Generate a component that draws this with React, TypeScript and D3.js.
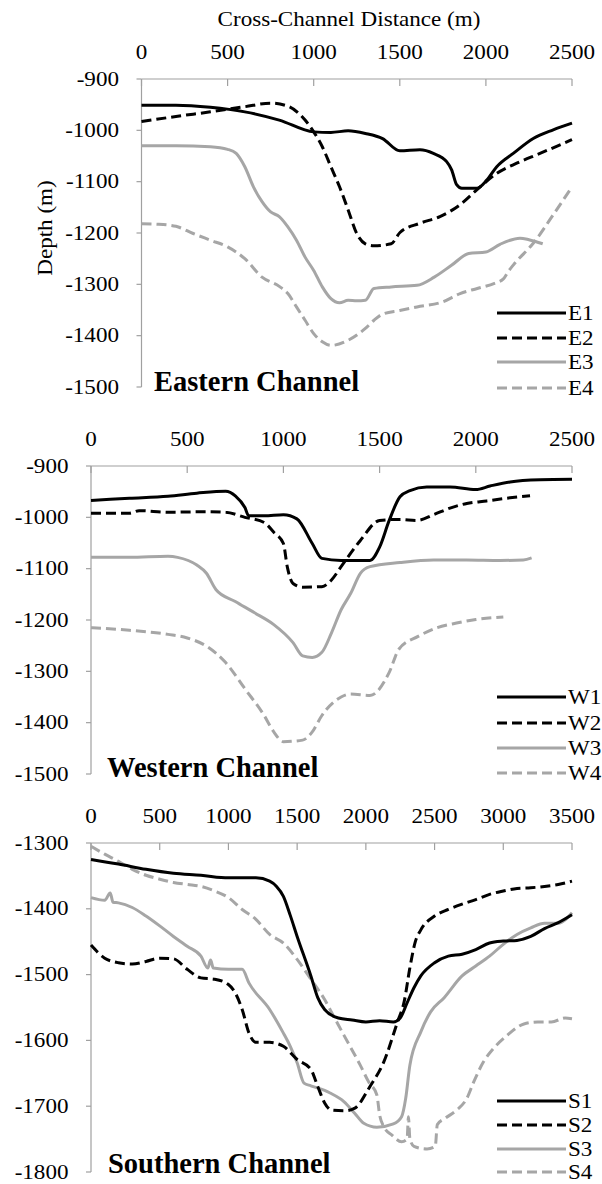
import * as d3 from 'd3';

type Pt = [number, number];

const SERIF = "'Liberation Serif', 'Times New Roman', serif";
const BLACK = '#000000';
const GRAY = '#a6a6a6';
const AXIS = '#a0a0a0';
const DASH = '10,5';
const SX = 1.1; // the source text is slightly wider than plain Times

// Eastern channel profiles: [cross-channel distance (m), depth (m)]
const E1: Pt[] = [[0, -951], [200, -951], [400, -955], [600, -964], [800, -980], [1000, -1003], [1100, -1004], [1200, -1001], [1300, -1006], [1400, -1016], [1500, -1040], [1617, -1038], [1695, -1045], [1772, -1061], [1801, -1077], [1830, -1106], [1860, -1113], [1947, -1113], [2005, -1097], [2063, -1071], [2159, -1045], [2275, -1016], [2391, -999], [2500, -986]];
const E2: Pt[] = [[0, -983], [200, -973], [400, -964], [600, -954], [750, -947], [850, -953], [950, -980], [1000, -1003], [1050, -1032], [1100, -1071], [1150, -1110], [1200, -1155], [1250, -1201], [1300, -1221], [1350, -1225], [1450, -1221], [1501, -1199], [1617, -1181], [1733, -1168], [1850, -1145], [1947, -1116], [2063, -1084], [2179, -1064], [2314, -1045], [2500, -1018]];
const E3: Pt[] = [[0, -1030], [200, -1030], [400, -1032], [500, -1037], [550, -1045], [600, -1071], [650, -1110], [700, -1139], [750, -1159], [800, -1168], [850, -1188], [900, -1214], [950, -1247], [1000, -1273], [1050, -1305], [1100, -1328], [1150, -1336], [1200, -1331], [1250, -1332], [1300, -1331], [1350, -1308], [1450, -1305], [1600, -1302], [1700, -1286], [1800, -1263], [1900, -1240], [2000, -1237], [2082, -1222], [2198, -1210], [2250, -1213], [2330, -1221]];
const E4: Pt[] = [[0, -1182], [100, -1183], [200, -1187], [300, -1201], [400, -1214], [500, -1227], [600, -1250], [700, -1286], [800, -1304], [850, -1318], [900, -1344], [950, -1370], [1000, -1396], [1050, -1412], [1100, -1419], [1200, -1409], [1300, -1386], [1350, -1370], [1400, -1358], [1500, -1351], [1600, -1344], [1750, -1334], [1850, -1318], [1950, -1308], [2050, -1298], [2100, -1290], [2130, -1275], [2160, -1262], [2275, -1220], [2400, -1160], [2500, -1110]];

// Western channel profiles
const W1: Pt[] = [[0, -967], [200, -963], [400, -959], [550, -953], [700, -949], [750, -958], [800, -981], [820, -997], [900, -997], [1000, -995], [1070, -1003], [1150, -1051], [1200, -1080], [1300, -1084], [1450, -1084], [1500, -1058], [1550, -1006], [1606, -960], [1658, -948], [1745, -941], [1866, -941], [1999, -946], [2074, -939], [2178, -931], [2334, -927], [2500, -926]];
const W2: Pt[] = [[0, -992], [200, -992], [250, -987], [400, -990], [600, -989], [700, -990], [800, -1000], [900, -1010], [950, -1029], [1000, -1051], [1020, -1096], [1050, -1129], [1100, -1136], [1200, -1135], [1250, -1122], [1300, -1096], [1400, -1045], [1500, -1006], [1606, -1004], [1693, -1006], [1780, -995], [1866, -982], [1953, -973], [2057, -968], [2178, -962], [2282, -958]];
const W3: Pt[] = [[0, -1078], [200, -1078], [400, -1076], [450, -1078], [550, -1093], [600, -1109], [650, -1141], [750, -1164], [850, -1186], [950, -1209], [1050, -1244], [1100, -1270], [1150, -1273], [1200, -1263], [1250, -1225], [1300, -1180], [1350, -1148], [1400, -1109], [1450, -1096], [1606, -1088], [1780, -1083], [1953, -1083], [2126, -1084], [2247, -1083], [2290, -1079]];
const W4: Pt[] = [[0, -1215], [200, -1220], [400, -1228], [500, -1235], [600, -1251], [700, -1283], [800, -1334], [900, -1386], [950, -1418], [1000, -1437], [1100, -1434], [1150, -1418], [1200, -1386], [1300, -1350], [1350, -1344], [1450, -1347], [1550, -1302], [1600, -1257], [1700, -1232], [1800, -1215], [1900, -1206], [2000, -1199], [2143, -1194]];

// Southern channel profiles
const S1: Pt[] = [[0, -1325], [200, -1332], [400, -1340], [600, -1346], [800, -1349], [1000, -1353], [1200, -1353], [1300, -1358], [1350, -1366], [1400, -1381], [1450, -1410], [1500, -1442], [1600, -1502], [1650, -1535], [1700, -1553], [1800, -1566], [1900, -1569], [2000, -1572], [2100, -1570], [2200, -1572], [2250, -1566], [2300, -1543], [2350, -1520], [2400, -1502], [2500, -1482], [2600, -1472], [2700, -1469], [2800, -1462], [2900, -1452], [3000, -1449], [3100, -1448], [3200, -1442], [3300, -1430], [3400, -1421], [3500, -1409]];
const S2: Pt[] = [[0, -1455], [100, -1475], [200, -1482], [300, -1484], [400, -1480], [500, -1475], [600, -1476], [700, -1492], [800, -1505], [900, -1507], [1000, -1515], [1050, -1528], [1100, -1553], [1150, -1589], [1200, -1603], [1300, -1603], [1400, -1609], [1500, -1629], [1600, -1644], [1650, -1670], [1700, -1695], [1750, -1706], [1850, -1707], [1920, -1703], [2030, -1670], [2130, -1633], [2230, -1572], [2280, -1540], [2320, -1490], [2360, -1450], [2400, -1432], [2500, -1411], [2600, -1401], [2700, -1393], [2800, -1386], [2900, -1378], [3000, -1373], [3100, -1369], [3200, -1368], [3300, -1366], [3400, -1363], [3500, -1358]];
const S3: Pt[] = [[0, -1383], [100, -1387], [140, -1376], [160, -1390], [200, -1391], [300, -1398], [400, -1411], [500, -1426], [600, -1442], [700, -1457], [800, -1472], [850, -1490], [870, -1478], [890, -1490], [1000, -1492], [1100, -1492], [1150, -1513], [1300, -1553], [1400, -1589], [1450, -1609], [1500, -1634], [1550, -1665], [1600, -1669], [1700, -1676], [1740, -1680], [1840, -1693], [1920, -1711], [1985, -1726], [2080, -1732], [2200, -1727], [2260, -1716], [2290, -1688], [2320, -1638], [2400, -1587], [2470, -1557], [2570, -1535], [2700, -1502], [2800, -1487], [2900, -1472], [3000, -1454], [3100, -1439], [3200, -1429], [3300, -1422], [3400, -1422], [3500, -1406]];
const S4: Pt[] = [[0, -1305], [100, -1317], [200, -1328], [300, -1340], [400, -1349], [500, -1355], [600, -1360], [700, -1363], [800, -1366], [900, -1373], [1000, -1383], [1100, -1401], [1200, -1416], [1300, -1439], [1400, -1452], [1500, -1477], [1600, -1507], [1700, -1538], [1770, -1565], [1840, -1592], [1960, -1638], [2020, -1663], [2080, -1683], [2100, -1713], [2130, -1731], [2190, -1744], [2260, -1754], [2300, -1750], [2310, -1716], [2320, -1749], [2350, -1761], [2445, -1765], [2505, -1761], [2520, -1728], [2580, -1718], [2660, -1706], [2735, -1688], [2785, -1663], [2855, -1633], [2930, -1612], [3030, -1592], [3150, -1575], [3250, -1572], [3350, -1572], [3450, -1566], [3500, -1567]];

const X_TICKS_2500 = [0, 500, 1000, 1500, 2000, 2500];
const X_TICKS_3500 = [0, 500, 1000, 1500, 2000, 2500, 3000, 3500];
const Y_TICKS_UPPER = [-900, -1000, -1100, -1200, -1300, -1400, -1500];
const Y_TICKS_LOWER = [-1300, -1400, -1500, -1600, -1700, -1800];

const EAST_NAMES = ['E1', 'E2', 'E3', 'E4'];
const WEST_NAMES = ['W1', 'W2', 'W3', 'W4'];
const SOUTH_NAMES = ['S1', 'S2', 'S3', 'S4'];

const STYLES = [
  { color: BLACK, dash: undefined },
  { color: BLACK, dash: DASH },
  { color: GRAY, dash: undefined },
  { color: GRAY, dash: DASH },
];

function Label({ x, y, anchor = 'start', size = 21, bold = false, rotate = 0, children }: {
  x: number; y: number; anchor?: string; size?: number; bold?: boolean; rotate?: number; children: string;
}) {
  const sx = bold ? 1 : SX;
  return (
    <text
      transform={`translate(${x},${y}) rotate(${rotate}) scale(${sx},1)`}
      textAnchor={anchor}
      fontFamily={SERIF}
      fontSize={size}
      fontWeight={bold ? 'bold' : 'normal'}
      fill="#000"
    >
      {children}
    </text>
  );
}

interface PanelProps {
  left: number;
  right: number;
  top: number;
  bottom: number;
  xTicks: number[];
  yTicks: number[];
  series: Pt[][];
  names: string[];
  title: string;
  titleX: number;
  titleY: number;
  legendY: number[];
}

function Panel({ left, right, top, bottom, xTicks, yTicks, series, names, title, titleX, titleY, legendY }: PanelProps) {
  const x = d3.scaleLinear().domain([0, d3.max(xTicks) as number]).range([left, right]);
  const y = d3.scaleLinear().domain([d3.max(yTicks) as number, d3.min(yTicks) as number]).range([top, bottom]);

  const line = d3.line<Pt>()
    .x((d) => x(d[0]))
    .y((d) => y(d[1]))
    .curve(d3.curveMonotoneX);

  // draw gray profiles first so the black ones sit on top
  const order = [3, 2, 1, 0];

  return (
    <g>
      {/* top x axis with inward ticks */}
      <line x1={left} x2={right} y1={top} y2={top} stroke={AXIS} strokeWidth={1.2} />
      {xTicks.map((t) => (
        <g key={`xt${t}`}>
          <line x1={x(t)} x2={x(t)} y1={top} y2={top + 7} stroke={AXIS} strokeWidth={1.2} />
          <Label x={x(t)} y={top - 20} anchor="middle">{String(t)}</Label>
        </g>
      ))}

      {/* left y axis */}
      <line x1={left} x2={left} y1={top} y2={bottom} stroke={AXIS} strokeWidth={1.2} />
      {yTicks.map((t) => (
        <g key={`yt${t}`}>
          <line x1={left - 5} x2={left} y1={y(t)} y2={y(t)} stroke={AXIS} strokeWidth={1.2} />
          <Label x={left - 22.5} y={y(t) + 6.5} anchor="end">{String(t)}</Label>
        </g>
      ))}

      {order.map((i) => (
        <path
          key={names[i]}
          d={line(series[i]) ?? ''}
          fill="none"
          stroke={STYLES[i].color}
          strokeWidth={3}
          strokeDasharray={STYLES[i].dash}
          strokeLinejoin="round"
        />
      ))}

      {/* legend */}
      {names.map((n, i) => (
        <g key={`lg${n}`}>
          <line
            x1={497}
            x2={566}
            y1={legendY[i]}
            y2={legendY[i]}
            stroke={STYLES[i].color}
            strokeWidth={3.2}
            strokeDasharray={STYLES[i].dash}
          />
          <Label x={568} y={legendY[i] + 6.5}>{n}</Label>
        </g>
      ))}

      <Label x={titleX} y={titleY} size={28.5} bold>{title}</Label>
    </g>
  );
}

export default function App() {
  return (
    <div style={{ position: 'absolute', left: 0, top: 0, background: '#fff' }}>
      <svg width={602} height={1184} viewBox="0 0 602 1184" style={{ display: 'block' }}>
        <rect width={602} height={1184} fill="#fff" />

        <Label x={349} y={26} anchor="middle">Cross-Channel Distance (m)</Label>
        <Label x={52} y={228} anchor="middle" rotate={-90}>Depth (m)</Label>

        <Panel
          left={141.5} right={572} top={79} bottom={387}
          xTicks={X_TICKS_2500} yTicks={Y_TICKS_UPPER}
          series={[E1, E2, E3, E4]} names={EAST_NAMES}
          title="Eastern Channel" titleX={154} titleY={391}
          legendY={[313, 338, 362, 388]}
        />
        <Panel
          left={91} right={572} top={466} bottom={774}
          xTicks={X_TICKS_2500} yTicks={Y_TICKS_UPPER}
          series={[W1, W2, W3, W4]} names={WEST_NAMES}
          title="Western Channel" titleX={107} titleY={777}
          legendY={[697, 723, 748, 773]}
        />
        <Panel
          left={91} right={572} top={843} bottom={1172}
          xTicks={X_TICKS_3500} yTicks={Y_TICKS_LOWER}
          series={[S1, S2, S3, S4]} names={SOUTH_NAMES}
          title="Southern Channel" titleX={108} titleY={1173}
          legendY={[1101, 1125, 1149, 1172]}
        />
      </svg>
    </div>
  );
}
